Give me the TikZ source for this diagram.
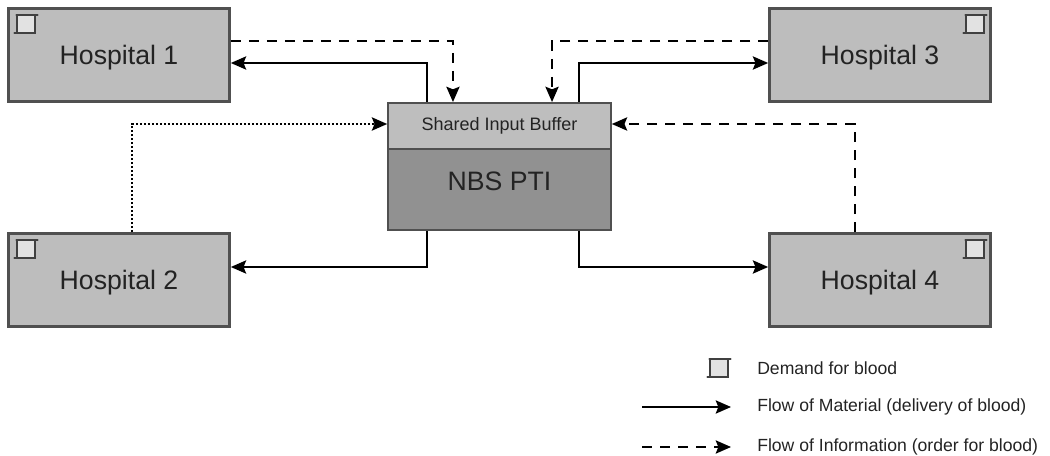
\documentclass[tikz,border=0pt]{standalone}
\usepackage{fontspec}
\setmainfont{Liberation Sans}
\usepackage{tikz}
\usetikzlibrary{positioning,arrows.meta}
\definecolor{HospGray}{RGB}{189,189,189}
\definecolor{BufGray}{RGB}{190,190,190}
\definecolor{CoreGray}{RGB}{145,145,145}
\definecolor{EdgeGray}{RGB}{80,80,80}
\definecolor{IconGray}{RGB}{226,226,226}
\definecolor{InkGray}{RGB}{35,35,35}
\tikzset{
  hospital/.style={draw=EdgeGray,line width=1.8pt,fill=HospGray,minimum width=166pt,minimum height=70pt,inner sep=0pt,text=InkGray,text depth=0pt,font=\fontsize{20}{22}\selectfont},
  centerbox/.style={draw=EdgeGray,line width=1.5pt,minimum width=167pt,inner sep=0pt,text=InkGray},
  demandbox/.style={draw=EdgeGray!80!black,line width=1.5pt,fill=IconGray,minimum width=13.5pt,minimum height=13.5pt,inner sep=0pt,outer sep=0pt},
  legendtext/.style={anchor=west,inner sep=0pt,text=InkGray,font=\fontsize{13.2}{16}\selectfont},
  material/.style={-{Stealth[length=11.5pt,width=10pt,inset=2pt]},line width=1.1pt,black},
  information/.style={material,dash pattern=on 7.5pt off 6pt},
  dottedinfo/.style={material,dash pattern=on 1.6pt off 1.4pt}
}
\begin{document}
\begin{tikzpicture}[x=0.75pt,y=-0.75pt]
\useasboundingbox (0,0) rectangle (1050,456);
\node[hospital] (h1) at (119,55) {Hospital 1};
\node[hospital] (h3) at (880,55) {Hospital 3};
\node[hospital] (h2) at (119,280) {Hospital 2};
\node[hospital] (h4) at (880,280) {Hospital 4};
\node[centerbox,fill=BufGray,minimum height=34.5pt,font=\fontsize{13.5}{16}\selectfont] (buf) at (499.5,126) {Shared Input Buffer};
\node[centerbox,fill=CoreGray,minimum height=61pt,below=-1.5pt of buf,label={[yshift=6.4pt,inner sep=0pt,text=InkGray,font=\fontsize{20}{24}\selectfont]center:NBS PTI}] (nbs) {};
% demand icons
\foreach \n/\x/\y in {a/26/24.5,b/975/24.5,c/26/249.5,d/975/249.5,e/719/368}{
  \node[demandbox] (d\n) at (\x,\y) {};
  \draw[EdgeGray!80!black,line width=1.5pt,line cap=round] ([xshift=-0.5pt]d\n.north west) -- ([xshift=2pt]d\n.north east);
  \draw[EdgeGray!80!black,line width=1.5pt,line cap=round] ([xshift=-2pt]d\n.south west) -- (d\n.south east);
}
% hospital 1 and 3
\draw[information] ([yshift=10.5pt]h1.east) -| ([xshift=-34.9pt]buf.north);
\draw[material] ([xshift=-54.4pt]buf.north) |- ([yshift=-6pt]h1.east);
\draw[information] ([yshift=10.5pt]h3.west) -| ([xshift=39.4pt]buf.north);
\draw[material] ([xshift=59.6pt]buf.north) |- ([yshift=-6pt]h3.west);
% hospital 2 and 4
\draw[dottedinfo] ([xshift=9.75pt]h2.north) |- ([yshift=1.5pt]buf.west);
\draw[information] ([xshift=-18.75pt]h4.north) |- ([yshift=1.5pt]buf.east);
\draw[material] ([xshift=-54.4pt]nbs.south) |- ([yshift=9.75pt]h2.east);
\draw[material] ([xshift=59.6pt]nbs.south) |- ([yshift=9.75pt]h4.west);
% legend
\node[legendtext] (t1) at (757,368) {Demand for blood};
\node[legendtext] (t2) at (757,407) {Flow of Material (delivery of blood)};
\node[legendtext] (t3) at (757,447) {Flow of Information (order for blood)};
\coordinate (m1) at (642,407);
\coordinate (m2) at (731,407);
\coordinate (i1) at (642,447);
\coordinate (i2) at (731,447);
\draw[material] (m1) -- (m2);
\draw[information] (i1) -- (i2);
\end{tikzpicture}
\end{document}
